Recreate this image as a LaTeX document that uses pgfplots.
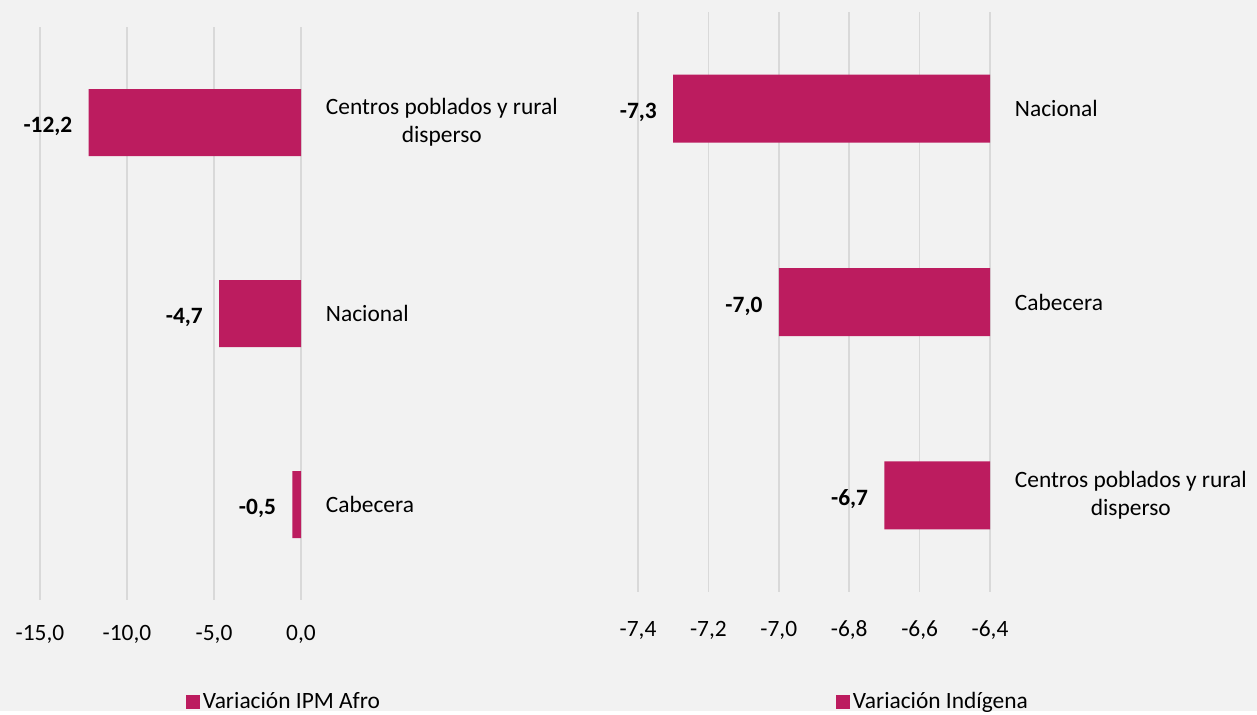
\documentclass[border=0pt]{standalone}
\usepackage{pgfplots}
\pgfplotsset{compat=1.18}
\usepackage{fontspec}
\setmainfont{Carlito}
\definecolor{barc}{HTML}{BC1C5F}
\definecolor{bg}{HTML}{F2F2F2}
\definecolor{gridc}{HTML}{D9D9D9}
\begin{document}
\begin{tikzpicture}
\fill[bg] (0,0) rectangle (628.5pt,-355.5pt);
\pgfplotsset{common/.style={
  scale only axis,
  axis line style={draw=none},
  tick style={draw=none},
  xmajorgrids,
  major grid style={gridc, line width=0.8pt},
  ytick={0,1,2}, ymin=-0.5, ymax=2.5, y dir=reverse,
  yticklabel pos=right,
  yticklabel style={anchor=west, align=center, inner sep=0pt, xshift=8pt, font=\fontsize{11.7}{14}\selectfont},
  xbar,
  nodes near coords,
  nodes near coords style={anchor=east, inner sep=0pt, xshift=-8pt, yshift=-2pt, font=\fontsize{11.7}{13.5}\selectfont\bfseries},
  legend style={draw=none, fill=none, inner sep=0pt, anchor=west, font=\fontsize{11.7}{13.5}\selectfont, nodes={inner sep=1.25pt}},
  legend image code/.code={\fill[barc] (0pt,-3.5pt) rectangle (7pt,3.5pt);},
  /pgf/number format/.cd, fixed, fixed zerofill, precision=1, use comma, assume math mode=true
}}
\begin{axis}[common,
  at={(20pt,-300pt)}, anchor=south west, width=130.5pt, height=286.5pt,
  xmin=-15, xmax=0, xtick={-15,-10,-5,0},
  xticklabel style={anchor=center, yshift=-17pt, font=\fontsize{11.7}{13.5}\selectfont},
  yticklabels={{Centros poblados y rural\\disperso},Nacional,Cabecera},
  bar width=33.5pt,
  legend style={at={(0.559,-0.178)}}]
\addplot[fill=barc, draw=none] coordinates {(-12.2,0) (-4.7,1) (-0.5,2)};
\addlegendentry{Variación IPM Afro}
\end{axis}
\begin{axis}[common,
  at={(319pt,-296pt)}, anchor=south west, width=176pt, height=290pt,
  xmin=-7.4, xmax=-6.4, xtick={-7.4,-7.2,-7.0,-6.8,-6.6,-6.4},
  xticklabel style={anchor=center, yshift=-19pt, font=\fontsize{11.7}{13.5}\selectfont},
  yticklabels={Nacional,Cabecera,{Centros poblados y rural\\disperso}},
  bar width=34pt,
  legend style={at={(0.5625,-0.19)}}]
\addplot[fill=barc, draw=none] coordinates {(-7.3,0) (-7.0,1) (-6.7,2)};
\addlegendentry{Variación Indígena}
\end{axis}
\end{tikzpicture}
\end{document}
